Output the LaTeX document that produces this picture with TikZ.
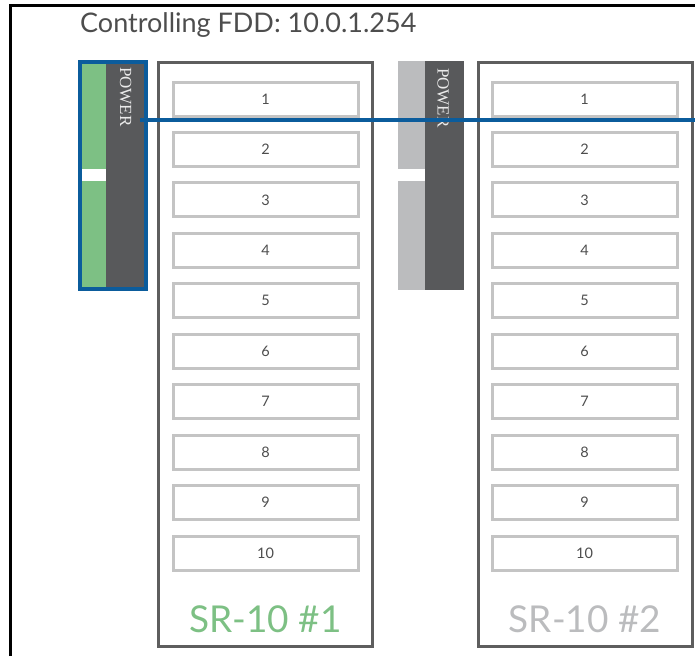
\documentclass[tikz,border=0pt]{standalone}
\usepackage{fontspec}
\setmainfont{Lato}
\newfontfamily\powfont{Liberation Serif}
\usetikzlibrary{positioning}
\definecolor{srgreen}{HTML}{7DC084}
\definecolor{srdark}{HTML}{58595B}
\definecolor{srlight}{HTML}{BBBCBE}
\definecolor{srblue}{HTML}{0B5C9C}
\definecolor{srframe}{HTML}{5E5E5E}
\definecolor{srslot}{HTML}{C4C4C4}
\definecolor{srtext}{HTML}{4D4D4D}

\begin{document}
\begin{tikzpicture}[x=1pt, y=-1pt,
    card/.style={draw=srframe, line width=3pt, minimum width=214pt, minimum height=584pt, inner sep=0pt},
    slot/.style={draw=srslot, line width=3pt, minimum width=185pt, minimum height=34pt, inner sep=0pt, text=srtext, font=\fontsize{14.5}{16}\selectfont},
    strip/.style={inner sep=0pt, minimum width=#1},
    powlabel/.style={text=white!92!black, font=\powfont\fontsize{17}{19}\selectfont, rotate=-90, anchor=west, inner sep=0pt},
    cardname/.style={font=\fontsize{37}{40}\selectfont, anchor=base},
    bus/.style={draw=srblue, line width=4pt}
]
\useasboundingbox (0,0) rectangle (695,656);

% Frame and title
\draw[line width=3pt] (10,656) -- (10,5) -- (695,5);
\node[anchor=base west, inner sep=0pt, text=srtext, font=\fontsize{27}{30}\selectfont] (title) at (80,32) {Controlling FDD: 10.0.1.254};

% Power supply 1 (selected)
\node[strip=28pt, fill=srgreen, minimum height=109pt] (feed1a) at (92,114.5) {};
\node[strip=28pt, fill=srgreen, minimum height=110pt] (feed1b) at (92,236) {};
\node[strip=42pt, fill=srdark, minimum height=231pt] (pow1) at (127,175.5) {};
\node[powlabel] (lab1) at ([yshift=-7pt]pow1.north -| 125.5,0) {POWER};
\draw[srblue, line width=4pt] (80,62) rectangle (146,289);

% Power supply 2
\node[strip=27pt, fill=srlight, minimum height=108pt] (feed2a) at (411.5,115) {};
\node[strip=27pt, fill=srlight, minimum height=109pt] (feed2b) at (411.5,235.5) {};
\node[strip=39pt, fill=srdark, minimum height=229pt] (pow2) at (444.5,175.5) {};
\node[powlabel] (lab2) at ([yshift=-7pt]pow2.north -| 443,0) {POWER};

% Cards
\node[card] (card1) at (265.5,354) {};
\node[card] (card2) at (585,354) {};
\foreach \i in {1,...,10} {
  \node[slot] (s1-\i) at (265.5,{99+(\i-1)*50.45}) {\i};
  \node[slot] (s2-\i) at (584.5,{99+(\i-1)*50.45}) {\i};
}
\node[cardname, text=srgreen] (name1) at (265.5,632) {SR-10 \#1};
\node[cardname, text=srlight] (name2) at (585,632) {SR-10 \#2};

% Feed line
\coordinate (busin) at (140,120);
\coordinate (busout) at (695,120);
\draw[bus] (busin) -- (busout);

\end{tikzpicture}
\end{document}
